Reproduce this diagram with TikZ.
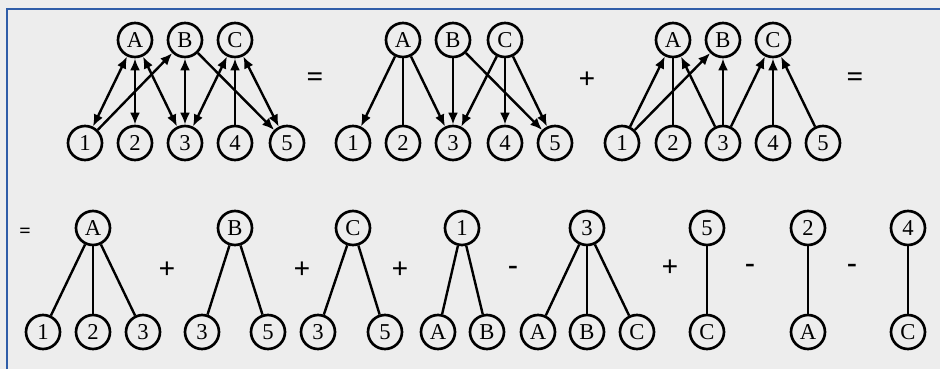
\documentclass[tikz,border=0pt]{standalone}
\usepackage{fontspec}
\setmainfont{Liberation Serif}
\usepackage{xcolor}
\usetikzlibrary{arrows.meta}
\definecolor{frameblue}{HTML}{2F5DA8}
\definecolor{paper}{HTML}{EDEDED}
\tikzset{
  vtx/.style={circle,draw,line width=2pt,minimum size=25.5pt,inner sep=0pt,
    font=\fontsize{17}{17}\selectfont},
  op/.style={font=\fontsize{22}{22}\selectfont\bfseries},
  arc/.style={line width=1.8pt,-{Latex[length=9pt,width=7.5pt]}},
  darc/.style={line width=1.8pt,{Latex[length=9pt,width=7.5pt]}-{Latex[length=9pt,width=7.5pt]}},
  edge/.style={line width=1.8pt}
}

\begin{document}
\begin{tikzpicture}[x=0.75pt,y=-0.75pt]
    % 背景和边框
    \fill[paper] (0,0) rectangle (940,369);
    \useasboundingbox (0,0) rectangle (940,369);
    \draw[frameblue,line width=2.2pt] (7,369) -- (7,9) -- (940,9);

    % 第一个图
    \node[vtx] (aA) at (135,40) {A};
    \node[vtx] (aB) at (185,40) {B};
    \node[vtx] (aC) at (235,40) {C};
    \node[vtx] (a1) at (85,143) {1};
    \node[vtx] (a2) at (135,143) {2};
    \node[vtx] (a3) at (185,143) {3};
    \node[vtx] (a4) at (235,143) {4};
    \node[vtx] (a5) at (287,143) {5};

    \draw[darc] (a1) -- (aA);
    \draw[darc] (a2) -- (aA);
    \draw[darc] (a3) -- (aA);
    \draw[darc] (a3) -- (aB);
    \draw[darc] (a3) -- (aC);
    \draw[darc] (a5) -- (aC);
    \draw[arc] (a1) -- (aB);
    \draw[arc] (aB) -- (a5);
    \draw[arc] (a4) -- (aC);

    \node[op] (eq1) at (315,80) {=};

    % 第二个图
    \node[vtx] (bA) at (403,40) {A};
    \node[vtx] (bB) at (453,40) {B};
    \node[vtx] (bC) at (505,40) {C};
    \node[vtx] (b1) at (353,143) {1};
    \node[vtx] (b2) at (403,143) {2};
    \node[vtx] (b3) at (453,143) {3};
    \node[vtx] (b4) at (505,143) {4};
    \node[vtx] (b5) at (555,143) {5};

    \draw[arc] (bA) -- (b1);
    \draw[edge] (bA) -- (b2);
    \draw[arc] (bA) -- (b3);
    \draw[arc] (bB) -- (b3);
    \draw[arc] (bB) -- (b5);
    \draw[arc] (bC) -- (b3);
    \draw[arc] (bC) -- (b4);
    \draw[arc] (bC) -- (b5);

    \node[op] (pl1) at (587,80) {+};

    % 第三个图
    \node[vtx] (cA) at (673,40) {A};
    \node[vtx] (cB) at (723,40) {B};
    \node[vtx] (cC) at (773,40) {C};
    \node[vtx] (c1) at (622,143) {1};
    \node[vtx] (c2) at (673,143) {2};
    \node[vtx] (c3) at (723,143) {3};
    \node[vtx] (c4) at (773,143) {4};
    \node[vtx] (c5) at (823,143) {5};

    \draw[arc] (c1) -- (cA);
    \draw[arc] (c1) -- (cB);
    \draw[edge] (c2) -- (cA);
    \draw[arc] (c3) -- (cA);
    \draw[arc] (c3) -- (cB);
    \draw[arc] (c3) -- (cC);
    \draw[arc] (c4) -- (cC);
    \draw[arc] (c5) -- (cC);

    \node[op] (eq2) at (855,80) {=};

    % 第二行: 各个星形
    \node[op,font=\fontsize{15}{15}\selectfont\bfseries] (eq3) at (25,233) {=};

    \node[vtx] (dA) at (93,228) {A};
    \node[vtx] (d1) at (43,332) {1};
    \node[vtx] (d2) at (93,332) {2};
    \node[vtx] (d3) at (143,332) {3};
    \draw[edge] (dA) -- (d1);
    \draw[edge] (dA) -- (d2);
    \draw[edge] (dA) -- (d3);

    \node[op] (pl2) at (167,270) {+};

    \node[vtx] (eB) at (235,228) {B};
    \node[vtx] (e3) at (202,332) {3};
    \node[vtx] (e5) at (268,332) {5};
    \draw[edge] (eB) -- (e3);
    \draw[edge] (eB) -- (e5);

    \node[op] (pl3) at (302,270) {+};

    \node[vtx] (fC) at (353,228) {C};
    \node[vtx] (f3) at (318,332) {3};
    \node[vtx] (f5) at (385,332) {5};
    \draw[edge] (fC) -- (f3);
    \draw[edge] (fC) -- (f5);

    \node[op] (pl4) at (400,270) {+};

    \node[vtx] (g1) at (462,228) {1};
    \node[vtx] (gA) at (438,332) {A};
    \node[vtx] (gB) at (487,332) {B};
    \draw[edge] (g1) -- (gA);
    \draw[edge] (g1) -- (gB);

    \node[op] (mi1) at (513,270) {-};

    \node[vtx] (h3) at (587,228) {3};
    \node[vtx] (hA) at (538,332) {A};
    \node[vtx] (hB) at (587,332) {B};
    \node[vtx] (hC) at (637,332) {C};
    \draw[edge] (h3) -- (hA);
    \draw[edge] (h3) -- (hB);
    \draw[edge] (h3) -- (hC);

    \node[op] (pl5) at (670,268) {+};

    \node[vtx] (i5) at (707,228) {5};
    \node[vtx] (iC) at (707,332) {C};
    \draw[edge] (i5) -- (iC);

    \node[op] (mi2) at (750,268) {-};

    \node[vtx] (j2) at (808,228) {2};
    \node[vtx] (jA) at (808,332) {A};
    \draw[edge] (j2) -- (jA);

    \node[op] (mi3) at (852,268) {-};

    \node[vtx] (k4) at (908,228) {4};
    \node[vtx] (kC) at (908,332) {C};
    \draw[edge] (k4) -- (kC);

\end{tikzpicture}
\end{document}
